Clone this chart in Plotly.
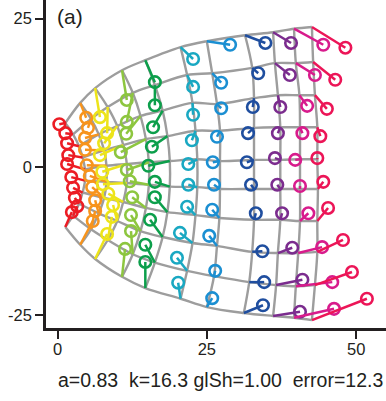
import plotly.graph_objects as go

# ---- grid nodes (model) per column, top row -> bottom row ----
red_grid_x = [1.3, 2.6, 3.6, 4.2, 4.6, 4.6, 4.2, 3.6, 2.6, 1.3]
red_grid_y = [7.4, 5.5, 3.5, 1.6, -0.4, -2.3, -4.3, -6.2, -8.2, -10.1]
orange_grid_x = [3.8, 5.6, 6.9, 7.8, 8.2, 8.2, 7.8, 6.9, 5.6, 3.8]
orange_grid_y = [10.8, 8.1, 5.5, 2.8, 0.2, -2.5, -5.2, -7.8, -10.5, -13.1]
yellow_grid_x = [6.3, 8.4, 10.0, 11.0, 11.6, 11.6, 11.0, 10.0, 8.4, 6.3]
yellow_grid_y = [13.3, 10.1, 6.9, 3.7, 0.5, -2.7, -5.9, -9.1, -12.3, -15.5]
ygreen_grid_x = [10.8, 12.6, 13.9, 14.8, 15.3, 15.3, 14.8, 13.9, 12.6, 10.8]
ygreen_grid_y = [16.3, 12.5, 8.6, 4.7, 0.8, -3.0, -6.9, -10.8, -14.7, -18.5]
green_grid_x = [14.7, 16.3, 17.6, 18.4, 18.8, 18.8, 18.4, 17.6, 16.3, 14.7]
green_grid_y = [18.0, 13.8, 9.5, 5.2, 1.0, -3.3, -7.6, -11.8, -16.1, -20.4]
teal_grid_x = [20.6, 21.7, 22.6, 23.1, 23.4, 23.4, 23.1, 22.6, 21.7, 20.6]
teal_grid_y = [20.2, 15.5, 10.8, 6.1, 1.3, -3.4, -8.1, -12.8, -17.5, -22.2]
lblue_grid_x = [25.0, 25.9, 26.7, 27.2, 27.2, 27.2, 27.1, 26.7, 26.2, 25.0]
lblue_grid_y = [21.2, 15.8, 10.6, 6.1, 1.0, -3.7, -8.6, -13.3, -18.4, -23.6]
dblue_grid_x = [31.4, 32.6, 32.9, 32.9, 32.9, 32.9, 32.9, 32.6, 32.1, 31.2]
dblue_grid_y = [22.2, 16.7, 11.6, 6.6, 1.2, -3.7, -8.9, -14.3, -19.4, -24.6]
purple_grid_x = [36.1, 36.4, 36.9, 37.3, 37.3, 37.3, 37.3, 36.9, 36.6, 36.1]
purple_grid_y = [22.7, 17.5, 12.1, 6.7, 1.2, -3.7, -8.9, -14.5, -19.9, -25.1]
magenta_grid_x = [39.6, 39.9, 40.5, 40.6, 40.6, 40.6, 40.6, 40.3, 39.9, 39.6]
magenta_grid_y = [23.3, 17.5, 12.1, 6.7, 1.3, -3.7, -9.1, -14.5, -20.1, -25.4]
pink_grid_x = [42.6, 42.8, 43.1, 43.5, 43.5, 43.6, 43.5, 43.5, 43.1, 42.6]
pink_grid_y = [23.6, 17.7, 12.1, 6.7, 1.3, -3.7, -9.1, -14.3, -19.9, -25.8]

# ---- observed points per column ----
red_pt_x = [0.3, 1.3, 1.6, 1.8, 1.6, 2.3, 2.6, 2.9, 3.3, 2.4]
red_pt_y = [7.2, 5.7, 4.0, 2.0, 0.5, -1.7, -3.5, -5.2, -6.6, -7.6]
orange_pt_x = [4.8, 5.1, 4.6, 4.6, 4.9, 5.4, 5.8, 6.3, 6.3, 5.9]
orange_pt_y = [8.3, 6.6, 4.9, 2.9, 0.3, -1.5, -3.4, -5.6, -7.4, -9.1]
yellow_pt_x = [7.1, 8.3, 7.8, 7.1, 7.5, 7.6, 8.5, 9.3, 9.1, 8.3]
yellow_pt_y = [8.4, 5.7, 4.0, 2.0, -0.8, -2.9, -4.5, -6.4, -8.4, -11.3]
ygreen_pt_x = [11.6, 11.6, 11.5, 10.6, 11.6, 12.1, 12.5, 12.3, 12.3, 11.3]
ygreen_pt_y = [11.3, 7.6, 5.6, 2.5, -0.5, -2.4, -5.1, -8.1, -10.8, -13.8]
green_pt_x = [16.3, 16.3, 16.0, 15.8, 15.2, 16.3, 16.3, 15.5, 14.7, 14.7]
green_pt_y = [14.3, 10.4, 6.7, 3.4, 0.2, -2.5, -5.1, -8.9, -13.1, -16.0]
teal_pt_x = [22.7, 22.7, 22.7, 22.5, 21.9, 21.9, 21.7, 20.5, 20.0, 20.2]
teal_pt_y = [18.2, 13.5, 8.8, 4.5, 0.5, -3.0, -6.7, -11.1, -15.3, -19.5]
lblue_pt_x = [28.9, 27.4, 27.4, 26.7, 26.0, 26.2, 25.9, 25.4, 26.4, 25.9]
lblue_pt_y = [20.6, 14.2, 9.9, 5.1, 0.8, -3.0, -7.2, -11.6, -17.5, -22.1]
dblue_pt_x = [34.8, 33.6, 32.7, 31.9, 31.7, 32.4, 33.2, 34.3, 34.6, 34.4]
dblue_pt_y = [20.9, 15.8, 10.1, 5.7, 0.8, -3.0, -7.8, -14.2, -19.4, -23.3]
purple_pt_x = [39.1, 38.9, 37.3, 36.9, 36.4, 36.8, 37.6, 39.3, 41.0, 40.6]
purple_pt_y = [20.9, 15.5, 10.1, 5.7, 1.5, -3.0, -7.8, -13.6, -19.0, -24.4]
magenta_pt_x = [44.5, 43.1, 41.8, 41.0, 39.8, 40.6, 42.0, 44.3, 46.0, 46.3]
magenta_pt_y = [20.6, 15.5, 10.3, 5.7, 1.2, -3.2, -7.8, -13.5, -19.4, -23.9]
pink_pt_x = [48.2, 46.5, 45.1, 44.0, 43.5, 44.5, 45.3, 47.8, 49.3, 51.8]
pink_pt_y = [20.1, 14.7, 9.8, 5.2, 1.5, -2.5, -6.9, -12.3, -17.7, -22.2]

col_colors = ["#ec1c24", "#f7941d", "#ede41a", "#8dc63f", "#0c9f4b", "#19a8c2",
              "#1b8fd2", "#1f4e9f", "#7b2c8e", "#d81b8c", "#ec1557"]

x_ticks = [0, 25, 50]
x_tick_labels = ["0", "25", "50"]
y_ticks = [-25, 0, 25]
y_tick_labels = ["-25", "0", "25"]

panel_label = "(a)"
fit_text = "a=0.83\u00a0\u00a0k=16.3 glSh=1.00\u00a0\u00a0error=12.3"

grid_x = [red_grid_x, orange_grid_x, yellow_grid_x, ygreen_grid_x, green_grid_x, teal_grid_x,
          lblue_grid_x, dblue_grid_x, purple_grid_x, magenta_grid_x, pink_grid_x]
grid_y = [red_grid_y, orange_grid_y, yellow_grid_y, ygreen_grid_y, green_grid_y, teal_grid_y,
          lblue_grid_y, dblue_grid_y, purple_grid_y, magenta_grid_y, pink_grid_y]
pt_x = [red_pt_x, orange_pt_x, yellow_pt_x, ygreen_pt_x, green_pt_x, teal_pt_x,
        lblue_pt_x, dblue_pt_x, purple_pt_x, magenta_pt_x, pink_pt_x]
pt_y = [red_pt_y, orange_pt_y, yellow_pt_y, ygreen_pt_y, green_pt_y, teal_pt_y,
        lblue_pt_y, dblue_pt_y, purple_pt_y, magenta_pt_y, pink_pt_y]

GRID_COLOR = "#9d9d9d"
AXIS_COLOR = "#231f20"

fig = go.Figure()

n_rows = len(red_grid_x)
# columns
for gx, gy in zip(grid_x, grid_y):
    fig.add_trace(go.Scatter(x=gx, y=gy, mode="lines",
                             line=dict(color=GRID_COLOR, width=2.4, shape="spline", smoothing=1.0),
                             hoverinfo="skip", showlegend=False))
# rows
for r in range(n_rows):
    fig.add_trace(go.Scatter(x=[gx[r] for gx in grid_x], y=[gy[r] for gy in grid_y], mode="lines",
                             line=dict(color=GRID_COLOR, width=2.4, shape="spline", smoothing=1.0),
                             hoverinfo="skip", showlegend=False))

# residual segments and points
for gx, gy, px, py, c in zip(grid_x, grid_y, pt_x, pt_y, col_colors):
    sx, sy = [], []
    for a, b, p, q in zip(gx, gy, px, py):
        sx += [a, p, None]
        sy += [b, q, None]
    fig.add_trace(go.Scatter(x=sx, y=sy, mode="lines", line=dict(color=c, width=2.5),
                             hoverinfo="skip", showlegend=False))
    fig.add_trace(go.Scatter(x=px, y=py, mode="markers",
                             marker=dict(symbol="circle-open", size=11.5, color=c,
                                         line=dict(width=2.6, color=c)),
                             showlegend=False))

font_family = "Liberation Sans, Arial, Helvetica, sans-serif"

fig.update_layout(
    width=386, height=401,
    margin=dict(l=46, r=0, t=0, b=73),
    paper_bgcolor="white", plot_bgcolor="white",
    showlegend=False,
    font=dict(family=font_family, size=16, color=AXIS_COLOR),
    xaxis=dict(range=[-1.93, 55.0], showgrid=False, zeroline=False,
               showline=True, linewidth=2.5, linecolor=AXIS_COLOR,
               ticks="outside", ticklen=8, tickwidth=2, tickcolor=AXIS_COLOR,
               tickvals=x_ticks, ticktext=x_tick_labels, ticklabelstandoff=-4,
               tickfont=dict(size=16.5, family=font_family, color=AXIS_COLOR)),
    yaxis=dict(range=[-27.13, 28.14], showgrid=False, zeroline=False,
               showline=True, linewidth=2.5, linecolor=AXIS_COLOR,
               ticks="outside", ticklen=8, tickwidth=2, tickcolor=AXIS_COLOR,
               tickvals=y_ticks, ticktext=y_tick_labels,
               tickfont=dict(size=16.5, family=font_family, color=AXIS_COLOR)),
    annotations=[
        dict(text=panel_label, xref="paper", yref="paper", x=0.025, y=0.99,
             xanchor="left", yanchor="top", showarrow=False,
             font=dict(size=21, family=font_family, color=AXIS_COLOR)),
        dict(text=fit_text, xref="paper", yref="paper", x=0.512, y=-0.158,
             xanchor="center", yanchor="middle", showarrow=False,
             font=dict(size=19.5, family=font_family, color=AXIS_COLOR)),
    ],
)

fig.write_html("out.html", config={"displayModeBar": False},
               post_script="document.body.style.margin='0';")
